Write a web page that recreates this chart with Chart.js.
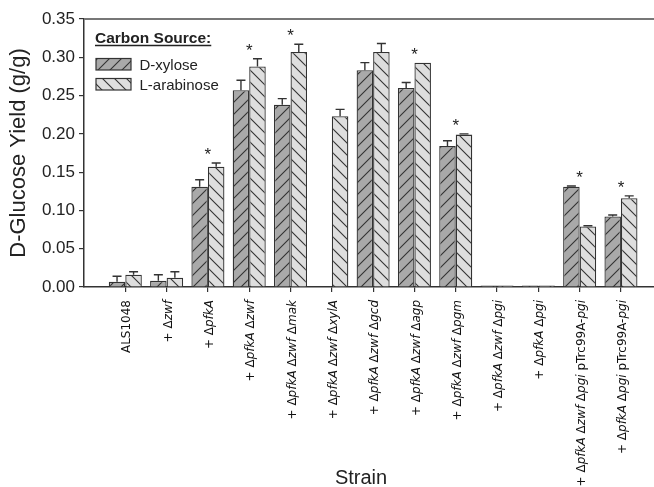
<!DOCTYPE html>
<html><head><meta charset="utf-8">
<script src="https://cdn.jsdelivr.net/npm/chart.js@4.4.0/dist/chart.umd.min.js"></script>
<style>html,body{margin:0;padding:0;background:#fff}#wrap{width:654px;height:487px;position:relative}</style>
</head><body><div id="wrap"><canvas id="c" width="654" height="487"></canvas></div>
<script>
// ---- data ----
const categories = ["ALS1048","+ Δzwf","+ ΔpfkA","+ ΔpfkA Δzwf","+ ΔpfkA Δzwf Δmak","+ ΔpfkA Δzwf ΔxylA","+ ΔpfkA Δzwf Δgcd","+ ΔpfkA Δzwf Δagp","+ ΔpfkA Δzwf Δpgm","+ ΔpfkA Δzwf Δpgi","+ ΔpfkA Δpgi","+ ΔpfkA Δzwf Δpgi pTrc99A-pgi","+ ΔpfkA Δpgi pTrc99A-pgi"];
const seriesNames = ["D-xylose","L-arabinose"];
const xyloseYield    = [0.007,0.008,0.131,0.257,0.238,null,0.283,0.260,0.184,0.002,0.002,0.131,0.092];
const xyloseErr      = [0.007,0.008,0.009,0.013,0.008,0,0.010,0.007,0.007,0,0,0.001,0.002];
const arabinoseYield = [0.016,0.012,0.157,0.288,0.307,0.223,0.307,0.293,0.199,0.002,0.002,0.079,0.116];
const arabinoseErr   = [0.004,0.008,0.005,0.010,0.010,0.009,0.011,0,0.001,0,0,0.001,0.003];
const significant    = [false,false,true,true,true,false,false,true,true,false,false,true,true];
const yTickValues    = [0,0.05,0.10,0.15,0.20,0.25,0.30,0.35];
const legendTitle = "Carbon Source:";
const xTitle = "Strain";
const yTitle = "D-Glucose Yield (g/g)";

// ---- styles ----
function makePattern(bg, dir){
  const s = 12, c = document.createElement('canvas');
  c.width = s; c.height = s;
  const g = c.getContext('2d');
  g.fillStyle = bg; g.fillRect(0,0,s,s);
  g.strokeStyle = '#333'; g.lineWidth = 1.1;
  g.beginPath();
  if (dir === '/') {
    g.moveTo(-1, s+1); g.lineTo(s+1, -1);
    g.moveTo(-1, 1); g.lineTo(1, -1);
    g.moveTo(s-1, s+1); g.lineTo(s+1, s-1);
  } else {
    g.moveTo(-1, -1); g.lineTo(s+1, s+1);
    g.moveTo(s-1, -1); g.lineTo(s+1, 1);
    g.moveTo(-1, s-1); g.lineTo(1, s+1);
  }
  g.stroke();
  return document.getElementById('c').getContext('2d').createPattern(c, 'repeat');
}
const fills = [makePattern('#a9a9a9','/'), makePattern('#dedede','\\')];
const errs = [xyloseErr, arabinoseErr];
const SANS = '"Liberation Sans", Arial, sans-serif';
const LABELFONT = '"DejaVu Sans", sans-serif';

function labelSegments(s){
  const segs=[]; const re=/(Δ|pTrc99A-)([A-Za-z]+)/g; let last=0,m;
  while((m=re.exec(s))){
    if(m.index>last) segs.push([s.slice(last,m.index),false]);
    segs.push([m[1],false]); segs.push([m[2],true]);
    last=re.lastIndex;
  }
  if(last<s.length) segs.push([s.slice(last),false]);
  return segs;
}

const decorPlugin = {
  id:'decor',
  afterDatasetsDraw(chart){
    const ctx = chart.ctx, xs = chart.scales.x, ys = chart.scales.y, ca = chart.chartArea;
    ctx.save();
    // top frame line
    ctx.strokeStyle = '#777'; ctx.lineWidth = 2;
    ctx.beginPath(); ctx.moveTo(ca.left, ca.top); ctx.lineTo(ca.right, ca.top); ctx.stroke();
    // error bars
    ctx.strokeStyle = '#333'; ctx.lineWidth = 1.4;
    chart.data.datasets.forEach((ds, di) => {
      const meta = chart.getDatasetMeta(di);
      meta.data.forEach((bar, i) => {
        const v = ds.data[i].y, e = errs[di][i];
        if (v == null || !e) return;
        const yt = ys.getPixelForValue(v + e);
        ctx.beginPath();
        ctx.moveTo(bar.x, bar.y); ctx.lineTo(bar.x, yt);
        ctx.moveTo(bar.x - 4.5, yt); ctx.lineTo(bar.x + 4.5, yt);
        ctx.stroke();
      });
    });
    // significance stars
    ctx.fillStyle = '#222'; ctx.font = '17px ' + SANS; ctx.textAlign = 'center'; ctx.textBaseline = 'alphabetic';
    significant.forEach((s, i) => {
      if (!s) return;
      let top = Infinity;
      [xyloseYield, arabinoseYield].forEach((arr, di) => {
        if (arr[i] == null) return;
        top = Math.min(top, ys.getPixelForValue(arr[i] + errs[di][i]));
      });
      ctx.fillText('*', xs.getPixelForValue(i), top - 3);
    });
    // legend
    ctx.textAlign = 'left';
    ctx.fillStyle = '#222';
    ctx.font = 'bold 15.5px ' + SANS;
    ctx.fillText(legendTitle, 95, 43);
    const tw = ctx.measureText(legendTitle).width;
    ctx.strokeStyle = '#222'; ctx.lineWidth = 1.5;
    ctx.beginPath(); ctx.moveTo(95, 45.5); ctx.lineTo(95 + tw, 45.5); ctx.stroke();
    ctx.font = '15px ' + SANS;
    seriesNames.forEach((n, k) => {
      const y = 58.5 + k * 20;
      ctx.fillStyle = fills[k];
      ctx.fillRect(96, y, 35, 11.5);
      ctx.strokeStyle = '#333'; ctx.lineWidth = 1.2;
      ctx.strokeRect(96, y, 35, 11.5);
      ctx.fillStyle = '#222';
      ctx.fillText(n, 139.5, y + 11);
    });
    ctx.restore();
  },
  afterDraw(chart){
    const ctx = chart.ctx, xs = chart.scales.x, ca = chart.chartArea;
    ctx.save();
    ctx.fillStyle = '#111'; ctx.textBaseline = 'middle'; ctx.textAlign = 'left';
    categories.forEach((lab, i) => {
      const segs = labelSegments(lab);
      let total = 0;
      segs.forEach(s => { ctx.font = (s[1] ? 'italic ' : '') + '12px ' + LABELFONT; s.w = ctx.measureText(s[0]).width; total += s.w; });
      ctx.save();
      ctx.translate(xs.getPixelForValue(i) + 2, ca.bottom + 13);
      ctx.rotate(-Math.PI/2);
      let x = -total;
      segs.forEach(s => { ctx.font = (s[1] ? 'italic ' : '') + '12px ' + LABELFONT; ctx.fillText(s[0], x, 0); x += s.w; });
      ctx.restore();
    });
    // x axis title
    ctx.fillStyle = '#222'; ctx.font = '20px ' + SANS; ctx.textAlign = 'center'; ctx.textBaseline = 'middle';
    ctx.fillText(xTitle, 361, 478);
    ctx.restore();
  }
};

new Chart(document.getElementById('c'), {
  type: 'bar',
  data: {
    datasets: [
      { label: seriesNames[0], data: xyloseYield.map((v,i)=>({x:i,y:v})), backgroundColor: fills[0], borderColor:'#333', borderWidth:1.3, categoryPercentage:0.8, barPercentage:1.0 },
      { label: seriesNames[1], data: arabinoseYield.map((v,i)=>({x:i,y:v})), backgroundColor: fills[1], borderColor:'#333', borderWidth:1.3, categoryPercentage:0.8, barPercentage:1.0 }
    ]
  },
  options: {
    responsive:false, animation:false, devicePixelRatio:1,
    layout:{ padding:{ top:19, right:0, left:0, bottom:0 } },
    plugins:{ legend:{display:false}, tooltip:{enabled:false} },
    scales:{
      x:{
        type:'linear', min:-1, max:12.8, offset:false,
        afterBuildTicks(scale){ scale.ticks = categories.map((_,i)=>({value:i})); },
        afterFit(scale){ scale.height = 200; },
        ticks:{ display:false },
        grid:{ offset:false, drawOnChartArea:false, drawTicks:true, tickLength:5, color:'#333', lineWidth:1.2 },
        border:{ display:true, color:'#333', width:1.5 },
        title:{ display:false }
      },
      y:{
        min:0, max:0.35,
        afterBuildTicks(scale){ scale.ticks = yTickValues.map(v=>({value:v})); },
        afterFit(scale){ scale.width = 84; },
        ticks:{ color:'#222', font:{family:SANS, size:17}, padding:4, callback:(v)=>Number(v).toFixed(2) },
        grid:{ drawOnChartArea:false, drawTicks:true, tickLength:5, color:'#333', lineWidth:1.2 },
        border:{ display:true, color:'#333', width:1.5 },
        title:{ display:true, text:yTitle, color:'#222', font:{family:SANS, size:22}, padding:{top:6,bottom:0} }
      }
    }
  },
  plugins:[decorPlugin]
});
</script></body></html>
